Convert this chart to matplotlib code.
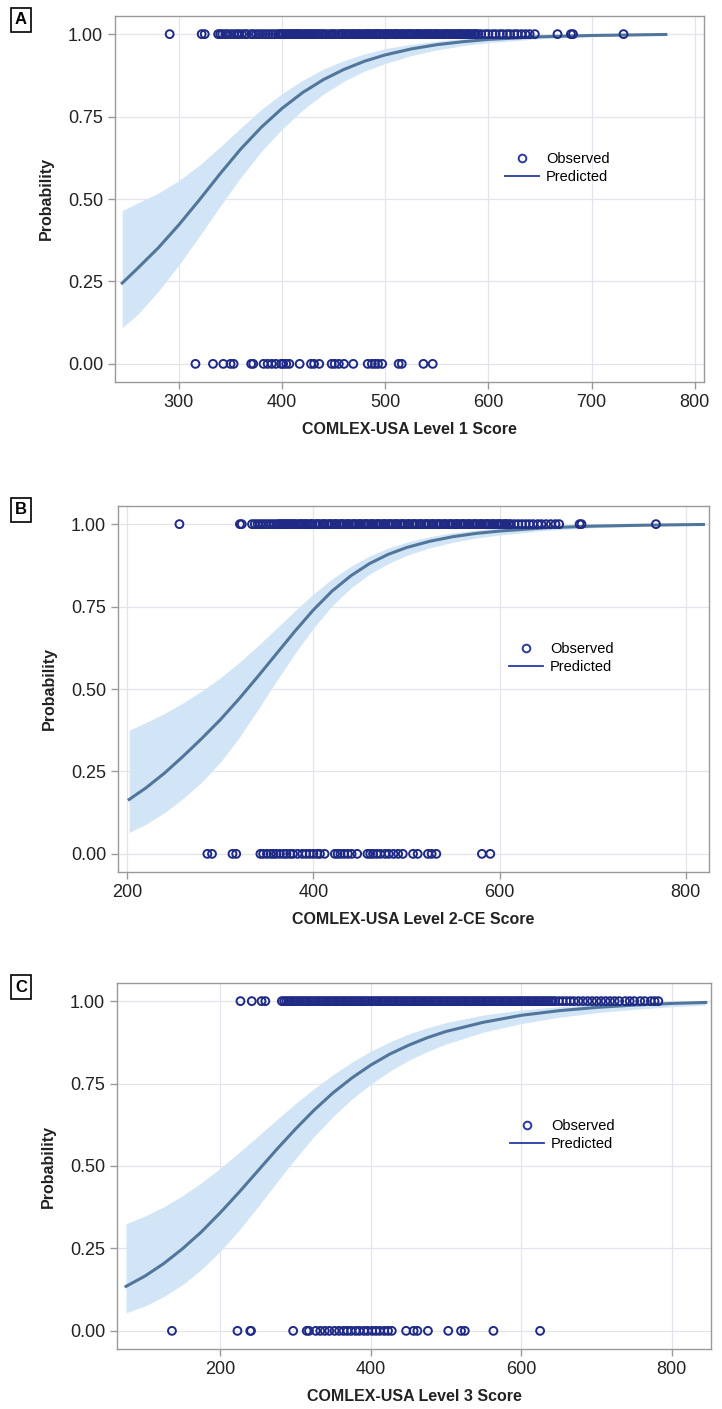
import matplotlib
matplotlib.use("Agg")
import matplotlib.pyplot as plt
from matplotlib.lines import Line2D

plt.rcParams['font.family'] = ['Liberation Sans', 'DejaVu Sans']

# ---------------- panel A : Level 1 ----------------
a_ones = [291, 322, 325, 338, 340, 342, 345, 347, 350, 353, 356, 358, 361, 364, 366, 370,
          372, 375, 378, 381, 384, 387, 390, 393, 396,
          398, 399, 401, 403, 404, 406, 407, 409, 410, 412, 413, 415, 416, 417, 419, 421,
          422, 424, 426, 427, 429, 430, 432, 434, 435, 437, 439, 441, 443, 446, 448, 450,
          452, 455, 457, 458, 459, 461, 463, 464, 466, 468, 469, 470, 472, 474, 475, 477,
          479, 481, 482, 483, 485, 486, 488, 490, 491, 492, 494, 495, 497, 499, 501, 502,
          503, 505, 506, 508, 510, 511, 512, 514, 516, 517, 519, 521, 522, 523, 525, 526,
          528, 530, 531, 532, 534, 535, 537, 539, 540, 541, 543, 544, 546, 548, 549, 550,
          552, 553, 555, 557, 558, 559, 561, 562, 564, 566, 567, 569, 571, 572, 573, 575,
          576, 578, 580, 581, 582, 584, 586, 587, 588,
          590, 593, 597, 600, 604, 607, 611, 614, 618, 621, 625, 628, 632, 636, 640, 645,
          667, 680, 682, 731]
a_zeros = [316, 333, 343, 350, 353, 370, 372, 382, 386, 390, 394, 399, 401, 404, 407,
           417, 428, 431, 436, 448, 451, 455, 460, 469, 483, 487, 490, 493, 497, 513, 516,
           537, 546]
a_x = [245, 260, 280, 300, 320, 340, 360, 380, 400, 420, 440, 460, 480, 500, 525, 550,
       575, 600, 650, 700, 772]
a_pred = [0.245, 0.29, 0.352, 0.422, 0.498, 0.577, 0.652, 0.718, 0.775, 0.823, 0.862,
          0.893, 0.918, 0.937, 0.955, 0.968, 0.977, 0.984, 0.992, 0.996, 0.999]
a_lo = [0.11, 0.15, 0.22, 0.30, 0.388, 0.478, 0.566, 0.645, 0.712, 0.77, 0.818, 0.857,
        0.888, 0.911, 0.935, 0.952, 0.965, 0.974, 0.986, 0.992, 0.997]
a_hi = [0.465, 0.488, 0.518, 0.556, 0.603, 0.658, 0.716, 0.772, 0.82, 0.86, 0.894,
        0.92, 0.94, 0.956, 0.969, 0.979, 0.986, 0.991, 0.996, 0.998, 1.0]

# ---------------- panel B : Level 2-CE ----------------
b_ones = [256, 321, 323, 334, 337, 340, 343, 346, 349, 352, 355, 358, 361,
          363, 365, 366, 368, 370, 371, 373, 375, 376, 378, 380, 381, 384, 386, 387, 389,
          391, 392, 394, 397, 398, 399, 402, 404, 405, 407, 410, 411, 412, 415, 417, 418,
          420, 423, 424, 425, 428, 430, 431, 433, 436, 437, 438, 441, 443, 444, 446, 449,
          450, 451, 454, 456, 457, 459, 462, 463, 464, 467, 469, 470, 472, 475, 476, 477,
          480, 482, 483, 485, 488, 489, 490, 493, 495, 496, 498, 501, 502, 503, 506, 508,
          509, 511, 514, 515, 516, 519, 521, 522, 524, 527, 528, 529, 532, 534, 535, 537,
          540, 541, 542, 545, 547, 548, 550, 553, 554, 555, 558, 560, 561, 563, 566, 567,
          568, 571, 573, 574, 576, 579, 580, 581, 584, 586, 587, 589, 592, 593, 594, 597,
          599, 600, 602, 605, 606, 607, 610,
          612, 616, 620, 624, 628, 632, 636, 641, 645, 650, 655, 660, 664, 686, 688, 768]
b_zeros = [286, 291, 313, 317, 343, 346, 350, 354, 357, 360, 364, 368, 371, 375, 378,
           383, 388, 392, 396, 400, 404, 407, 412, 423, 426, 429, 433, 437, 441, 447,
           458, 461, 464, 468, 472, 477, 481, 486, 491, 496, 507, 512, 523, 527, 532,
           581, 590]
b_x = [202, 220, 240, 260, 280, 300, 320, 340, 360, 380, 400, 420, 440, 460, 480, 500,
       525, 550, 575, 600, 650, 700, 760, 819]
b_pred = [0.165, 0.20, 0.245, 0.296, 0.35, 0.407, 0.47, 0.537, 0.606, 0.675, 0.74,
          0.797, 0.843, 0.88, 0.908, 0.929, 0.948, 0.962, 0.972, 0.979, 0.989, 0.994,
          0.997, 0.999]
b_lo = [0.065, 0.09, 0.125, 0.168, 0.218, 0.278, 0.352, 0.436, 0.523, 0.607, 0.685,
        0.752, 0.806, 0.848, 0.88, 0.905, 0.928, 0.945, 0.958, 0.967, 0.981, 0.989,
        0.994, 0.997]
b_hi = [0.375, 0.398, 0.426, 0.458, 0.494, 0.534, 0.58, 0.63, 0.683, 0.737, 0.788,
        0.834, 0.872, 0.903, 0.927, 0.945, 0.962, 0.974, 0.982, 0.988, 0.995, 0.998,
        0.999, 1.0]

# ---------------- panel C : Level 3 ----------------
c_ones = [227, 242, 255, 260, 282, 285, 288, 291, 294, 297, 300, 303, 306, 309, 312,
          315, 318, 321, 324, 327, 330, 333, 336, 339, 342, 345, 348, 351, 354, 357, 360,
          363, 366, 369, 372, 375, 378, 381, 384, 387, 390, 393, 396, 399, 402, 405, 408,
          411, 414, 417, 420, 423, 426, 429, 432, 435, 438, 441, 444, 447, 450, 453, 456,
          459, 462, 465, 468, 471, 474, 477, 480, 483, 486, 489, 492, 495, 498, 501, 504,
          507, 510, 513, 516, 519, 522, 525, 528, 531, 534, 537, 540, 543, 546, 549, 552,
          555, 558, 561, 564, 567, 570, 573, 576, 579, 582, 585, 588, 591, 594, 597, 600,
          603, 606, 609, 612, 615, 618, 621, 624, 627, 630, 633, 636, 639, 642, 645,
          650, 655, 660, 665, 670, 676, 682, 688, 694, 700, 706, 712, 718, 724, 730,
          738, 744, 750, 758, 764, 772, 777, 782]
c_zeros = [136, 223, 240, 241, 297, 315, 318, 327, 333, 339, 345, 352, 358, 364, 369,
           374, 380, 385, 391, 396, 402, 407, 412, 418, 423, 428, 447, 457, 462, 476,
           503, 520, 525, 563, 625]
c_x = [75, 100, 125, 150, 175, 200, 225, 250, 275, 300, 325, 350, 375, 400, 425, 450,
       475, 500, 550, 600, 650, 700, 750, 800, 845]
c_pred = [0.135, 0.166, 0.204, 0.249, 0.3, 0.358, 0.42, 0.485, 0.55, 0.612, 0.67,
          0.722, 0.767, 0.806, 0.839, 0.866, 0.889, 0.908, 0.936, 0.957, 0.971, 0.981,
          0.988, 0.993, 0.996]
c_lo = [0.055, 0.075, 0.104, 0.14, 0.186, 0.241, 0.305, 0.376, 0.45, 0.522, 0.59,
        0.65, 0.703, 0.748, 0.787, 0.82, 0.847, 0.87, 0.906, 0.932, 0.951, 0.965,
        0.975, 0.983, 0.988]
c_hi = [0.325, 0.348, 0.376, 0.41, 0.449, 0.493, 0.541, 0.59, 0.64, 0.689, 0.735,
        0.777, 0.815, 0.848, 0.876, 0.9, 0.919, 0.935, 0.958, 0.973, 0.983, 0.99,
        0.994, 0.997, 0.998]

panels = [
    ("A", "COMLEX-USA Level 1 Score", a_ones, a_zeros, a_x, a_pred, a_lo, a_hi,
     (238, 809), [300, 400, 500, 600, 700, 800]),
    ("B", "COMLEX-USA Level 2-CE Score", b_ones, b_zeros, b_x, b_pred, b_lo, b_hi,
     (190, 825), [200, 400, 600, 800]),
    ("C", "COMLEX-USA Level 3 Score", c_ones, c_zeros, c_x, c_pred, c_lo, c_hi,
     (63, 852), [200, 400, 600, 800]),
]

# axes boxes in pixels (left, top, right, bottom)
boxes = [(115, 16, 704, 382), (118, 506, 709, 872), (117, 983, 711, 1349)]
W, H = 722, 1409

fig = plt.figure(figsize=(W / 100, H / 100), dpi=100)

band_col = '#d2e5f6'
line_col = '#52769b'
pt_edge = '#1f2a85'
grid_col = '#e4e4ef'
spine_col = '#9a9a9a'

for (lab, xlab, ones, zeros, cx, pred, lo, hi, xlim, xt), (l, t, r, b) in zip(panels, boxes):
    ax = fig.add_axes([l / W, (H - b) / H, (r - l) / W, (b - t) / H])
    ax.fill_between(cx, lo, hi, color=band_col, lw=0, zorder=1)
    ax.plot(cx, pred, color=line_col, lw=2.2, zorder=2)
    ax.scatter(ones, [1.0] * len(ones), s=32, facecolor='none', edgecolor=pt_edge,
               lw=1.4, zorder=3)
    ax.scatter(zeros, [0.0] * len(zeros), s=32, facecolor='none', edgecolor=pt_edge,
               lw=1.4, zorder=3)

    ax.set_xlim(*xlim)
    ax.set_ylim(-0.055, 1.055)
    ax.set_xticks(xt)
    ax.set_yticks([0, 0.25, 0.5, 0.75, 1.0])
    ax.set_yticklabels(['0.00', '0.25', '0.50', '0.75', '1.00'])
    ax.grid(True, color=grid_col, lw=0.9, zorder=0)
    ax.set_axisbelow(True)
    for s in ax.spines.values():
        s.set_color(spine_col)
        s.set_linewidth(1.0)
    ax.tick_params(colors=spine_col, labelcolor='#222222', labelsize=13, length=5, width=1)

    ax.set_xlabel(xlab, fontsize=11.5, fontweight='bold', color='#222222', labelpad=8)
    ax.set_ylabel('Probability', fontsize=11.5, fontweight='bold', color='#222222', labelpad=10)

    handles = [Line2D([], [], marker='o', ls='none', markersize=5.5, markerfacecolor='white',
                      markeredgecolor='#2a3aa0', markeredgewidth=1.4),
               Line2D([], [], color='#2a3aa0', lw=1.3)]
    ax.legend(handles, ['Observed', 'Predicted'], frameon=False, fontsize=10.5,
              loc='upper left', bbox_to_anchor=(0.64, 0.665), handlelength=2.3,
              handletextpad=0.5, labelspacing=0.3)

    fig.text(21 / W, 1 - (t + 4) / H, lab, fontsize=12, fontweight='bold',
             ha='center', va='center',
             bbox=dict(boxstyle='square,pad=0.25', fc='white', ec='black', lw=1.2))

fig.savefig('out.png', dpi=100)
